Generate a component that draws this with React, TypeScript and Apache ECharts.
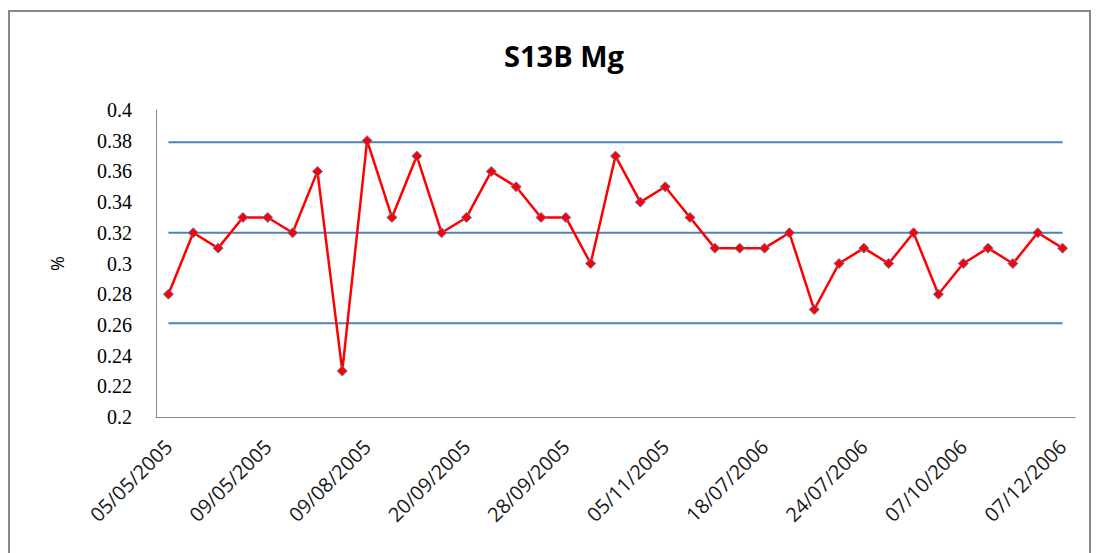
import React, { useEffect, useRef } from "react";
import * as echarts from "echarts";

const categories: string[] = [
  "05/05/2005", "", "", "",
  "09/05/2005", "", "", "",
  "09/08/2005", "", "", "",
  "20/09/2005", "", "", "",
  "28/09/2005", "", "", "",
  "05/11/2005", "", "", "",
  "18/07/2006", "", "", "",
  "24/07/2006", "", "", "",
  "07/10/2006", "", "", "",
  "07/12/2006",
];

const mgValues: number[] = [
  0.28, 0.32, 0.31, 0.33, 0.33, 0.32, 0.36, 0.23, 0.38, 0.33,
  0.37, 0.32, 0.33, 0.36, 0.35, 0.33, 0.33, 0.30, 0.37, 0.34,
  0.35, 0.33, 0.31, 0.31, 0.31, 0.32, 0.27, 0.30, 0.31, 0.30,
  0.32, 0.28, 0.30, 0.31, 0.30, 0.32, 0.31,
];

const upperLimit = 0.379;
const meanLine = 0.32;
const lowerLimit = 0.261;

const upperValues = categories.map(() => upperLimit);
const meanValues = categories.map(() => meanLine);
const lowerValues = categories.map(() => lowerLimit);

const BLUE = "#4F81BD";

export default function App() {
  const ref = useRef<HTMLDivElement>(null);
  useEffect(() => {
    if (!ref.current) return;
    const chart = echarts.init(ref.current, null, { renderer: "svg" });
    const ctrl = (data: number[]) => ({
      type: "line",
      data,
      symbol: "none",
      lineStyle: { color: BLUE, width: 2 },
      itemStyle: { color: BLUE },
      z: 2,
    });
    chart.setOption({
      animation: false,
      backgroundColor: "#ffffff",
      title: {
        text: "S13B Mg",
        left: 559,
        top: 36,
        textAlign: "center",
        textStyle: {
          fontFamily: "Open Sans",
          fontWeight: "bold",
          fontSize: 29,
          color: "#000",
        },
      },
      graphic: [
        {
          type: "rect",
          shape: { x: 9, y: 11, width: 1081, height: 560 },
          style: { fill: "none", stroke: "#888888", lineWidth: 2 },
          silent: true,
        },
      ],
      grid: { left: 156, right: 21, top: 110, bottom: 136 },
      xAxis: {
        type: "category",
        data: categories,
        boundaryGap: true,
        axisLine: { show: true, lineStyle: { color: "#888888", width: 1 } },
        axisTick: { show: false },
        axisLabel: {
          interval: 0,
          rotate: 45,
          margin: 26,
          fontFamily: "Open Sans",
          fontSize: 20,
          color: "#1a1a1a",
        },
        splitLine: { show: false },
      },
      yAxis: {
        type: "value",
        min: 0.2,
        max: 0.4,
        interval: 0.02,
        name: "%",
        nameLocation: "middle",
        nameRotate: 90,
        nameGap: 90,
        nameTextStyle: { fontFamily: "Open Sans", fontSize: 18, color: "#000" },
        axisLine: { show: true, lineStyle: { color: "#888888", width: 1 } },
        axisTick: { show: false },
        splitLine: { show: false },
        axisLabel: {
          margin: 24,
          fontFamily: "Liberation Serif",
          fontSize: 20,
          color: "#000",
          formatter: (v: number) => String(+v.toFixed(2)),
        },
      },
      series: [
        ctrl(upperValues),
        ctrl(meanValues),
        ctrl(lowerValues),
        {
          type: "line",
          data: mgValues,
          symbol: "diamond",
          symbolSize: 10,
          lineStyle: { color: "#FF0000", width: 2.5 },
          itemStyle: { color: "#FF0000", borderColor: BLUE, borderWidth: 1 },
          z: 3,
        },
      ],
    });
    return () => chart.dispose();
  }, []);
  return (
    <div
      ref={ref}
      style={{ position: "fixed", left: 0, top: 0, width: 1096, height: 553 }}
    />
  );
}
